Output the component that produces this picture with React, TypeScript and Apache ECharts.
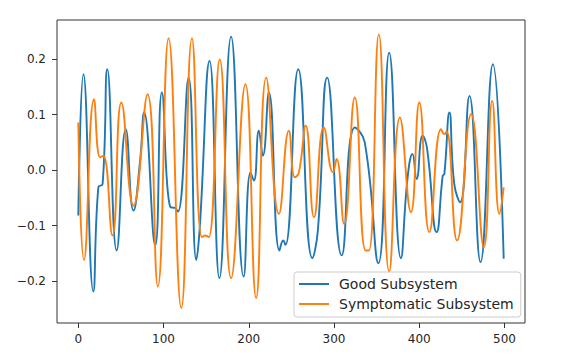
import React, { useEffect, useRef } from "react";
import * as echarts from "echarts";

const xTicks = [0, 100, 200, 300, 400, 500];
const yTicks = [-0.2, -0.1, 0, 0.1, 0.2];

const goodSubsystem: [number, number][] = [
  [0, -0.082], [6, 0.173], [17.6, -0.219], [23.5, -0.031], [28.5, -0.025],
  [34, 0.182], [45, -0.145], [55.7, 0.074], [64.7, -0.073], [72.5, 0.017],
  [77.2, 0.104], [90.2, -0.136], [98, 0.14], [108, -0.067], [113, -0.068],
  [116.8, -0.075], [129.4, 0.167], [138.4, -0.162], [142.4, -0.105], [154, 0.197],
  [165.5, -0.195], [179.2, 0.241], [194, -0.192], [202, -0.004], [206, -0.019],
  [211.8, 0.071], [216.5, 0.026], [223.5, 0.14], [236, -0.145], [240.4, -0.127],
  [243, -0.135], [258, 0.182], [274.5, -0.159], [281, -0.109], [292, 0.167],
  [309, -0.154], [324.3, 0.077], [336, 0.05], [352, -0.168], [364.7, 0.212],
  [378.4, -0.159], [386.3, -0.013], [392, 0.029], [396.8, -0.016], [403.9, 0.062],
  [409, 0.04], [420.4, -0.112], [427.5, -0.01], [429.4, -0.007], [435.3, 0.104],
  [441, -0.025], [448, -0.058], [458.8, 0.134], [471.8, -0.166], [486.3, 0.191],
  [499, -0.16],
];

const symptomaticSubsystem: [number, number][] = [
  [0, 0.086], [6.7, -0.162], [18.4, 0.128], [25.5, 0.023], [29.4, 0.026],
  [40, -0.118], [50.5, 0.122], [64.7, -0.064], [81.2, 0.137], [93.3, -0.21],
  [105.9, 0.238], [120.8, -0.249], [133.3, 0.238], [145, -0.121], [149, -0.118],
  [153, -0.121], [165.9, 0.2], [179.2, -0.195], [196, 0.155], [208.6, -0.231],
  [220.4, 0.167], [235.3, -0.079], [247, 0.071], [254, -0.013], [258.8, -0.004],
  [266.7, 0.08], [276.5, -0.085], [288, 0.077], [298.8, -0.004], [303, 0.02],
  [311.8, -0.097], [324.3, 0.131], [337, -0.145], [341, -0.145], [352.5, 0.245],
  [364.7, -0.183], [377.3, 0.095], [390.2, -0.076], [400, 0.122], [411.8, -0.112],
  [425.5, 0.074], [429.4, 0.065], [432, 0.07], [444.3, -0.127], [460.8, 0.101],
  [475.7, -0.139], [485.5, 0.125], [494, -0.079], [499, -0.031],
];

const FONT = "DejaVu Sans";

export default function App() {
  const ref = useRef<HTMLDivElement>(null);
  useEffect(() => {
    if (!ref.current) return;
    const chart = echarts.init(ref.current, null, { renderer: "svg" });
    chart.setOption({
      animation: false,
      backgroundColor: "#ffffff",
      grid: {
        left: 57, right: 46, top: 20, bottom: 33,
        show: true, borderColor: "#333", borderWidth: 1, backgroundColor: "transparent",
      },
      xAxis: {
        type: "value", min: -25, max: 524,
        axisLine: { show: false, onZero: false },
        splitLine: { show: false },
        axisTick: { show: true, length: 5, customValues: xTicks, lineStyle: { color: "#333" } },
        axisLabel: {
          customValues: xTicks, margin: 10, color: "#262626",
          fontFamily: FONT, fontSize: 12, formatter: (v: number) => String(v),
        },
      },
      yAxis: {
        type: "value", min: -0.276, max: 0.271,
        axisLine: { show: false, onZero: false },
        splitLine: { show: false },
        axisTick: { show: true, length: 5, customValues: yTicks, lineStyle: { color: "#333" } },
        axisLabel: {
          customValues: yTicks, margin: 11, color: "#262626",
          fontFamily: FONT, fontSize: 12,
          formatter: (v: number) => (v < 0 ? "\u2212" + Math.abs(v).toFixed(1) : v.toFixed(1)),
        },
      },
      legend: {
        orient: "vertical", left: 294, top: 272,
        padding: [4, 7, 5, 5], itemGap: 4,
        itemWidth: 30, itemHeight: 2, icon: "rect",
        backgroundColor: "rgba(255,255,255,0.85)",
        borderColor: "#cccccc", borderWidth: 1, borderRadius: 3,
        textStyle: { fontFamily: FONT, fontSize: 14, color: "#262626", lineHeight: 16, padding: [0, 0, 0, 5] },
        data: ["Good Subsystem", "Symptomatic Subsystem"],
      },
      series: [
        {
          name: "Good Subsystem", type: "line", data: goodSubsystem,
          showSymbol: false, smooth: 0.5, color: "#1f77b4",
          lineStyle: { width: 1.9, color: "#1f77b4" },
        },
        {
          name: "Symptomatic Subsystem", type: "line", data: symptomaticSubsystem,
          showSymbol: false, smooth: 0.5, color: "#ff7f0e",
          lineStyle: { width: 1.9, color: "#ff7f0e" },
        },
      ],
    });
    return () => chart.dispose();
  }, []);
  return (
    <div
      ref={ref}
      style={{ position: "fixed", left: 0, top: 0, width: 571, height: 356 }}
    />
  );
}
